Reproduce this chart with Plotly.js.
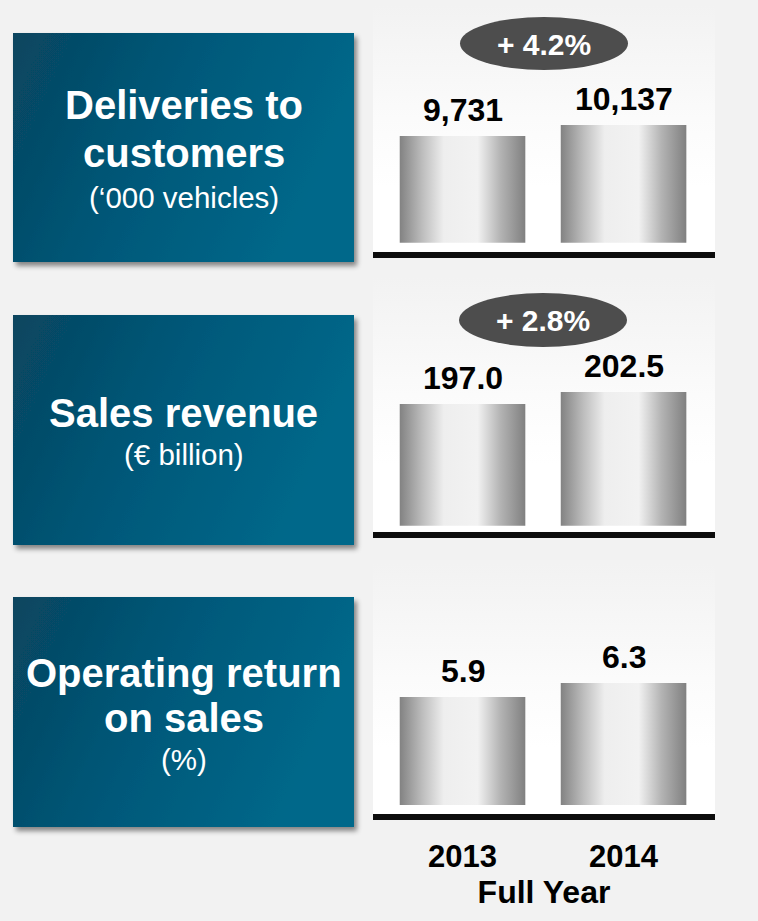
<!DOCTYPE html>
<html>
<head>
<meta charset="utf-8">
<script src="https://cdn.plot.ly/plotly-3.0.1.min.js"></script>
<style>
  html, body { margin: 0; padding: 0; background: #f2f2f2; }
  #chart { width: 758px; height: 921px; }
</style>
</head>
<body>
<div id="chart"></div>
<script>
// ---------------- data ----------------
const years = ['2013', '2014'];
const deliveries = [9731, 10137];
const revenue = [197.0, 202.5];
const returnOnSales = [5.9, 6.3];
const deliveriesLabels = ['9,731', '10,137'];
const revenueLabels = ['197.0', '202.5'];
const returnLabels = ['5.9', '6.3'];
const growthLabels = ['+ 4.2%', '+ 2.8%'];
const panelTitleLines = [['Deliveries to', 'customers'], ['Sales revenue'], ['Operating return', 'on sales']];
const panelUnits = ['(\u2018000 vehicles)', '(\u20ac billion)', '(%)'];
const xAxisTitle = 'Full Year';

// ---------------- layout helpers ----------------
const W = 758, H = 921;
const FONT = 'Liberation Sans, Arial, Helvetica, sans-serif';
const px = v => v / W;
const py = v => 1 - v / H;

// panel geometry (pixels)
const panels = [
  { top: 5,   barBottom: 242.7, lineTop: 252, lineBot: 258, range: [5793, 14566] },
  { top: 277, barBottom: 525.7, lineTop: 532, lineBot: 538, range: [141.22, 255.2] },
  { top: 563, barBottom: 805,   lineTop: 814, lineBot: 820, range: [2.814, 9.73] }
];
const plotX0 = 373, plotX1 = 715;
const boxes = [
  { y0: 33, y1: 262, lines: [105.3, 152.7], unitY: 197.8 },
  { y0: 315, y1: 545, lines: [412.7], unitY: 454.7 },
  { y0: 597, y1: 827, lines: [673.3, 717.7], unitY: 759.7 }
];
const boxX0 = 13, boxX1 = 354;
const badges = [
  { x0: 460, x1: 628, y0: 17, y1: 70, ty: 44.5 },
  { x0: 459, x1: 627, y0: 293, y1: 347, ty: 320.5 }
];

const series = [deliveries, revenue, returnOnSales];
const seriesLabels = [deliveriesLabels, revenueLabels, returnLabels];
const suffix = ['', '2', '3'];

const traces = series.map((vals, i) => ({
  type: 'bar',
  x: years,
  y: vals,
  xaxis: 'x' + suffix[i],
  yaxis: 'y' + suffix[i],
  marker: { color: '#c8c8c8', line: { width: 0 } },
  hoverinfo: 'skip',
  showlegend: false
}));

const shapes = [];
const shapeStyles = [];
function addShape(s, style) {
  shapes.push(s);
  if (style) shapeStyles.push(Object.assign({ i: shapes.length - 1 }, style));
}

// plot backgrounds + baselines
panels.forEach(p => {
  addShape({ type: 'rect', xref: 'paper', yref: 'paper', layer: 'below',
    x0: px(plotX0), x1: px(plotX1), y0: py(p.lineBot), y1: py(p.top),
    fillcolor: '#fafafa', line: { width: 0 } }, { fill: 'bgGrad' });
  addShape({ type: 'rect', xref: 'paper', yref: 'paper', layer: 'below',
    x0: px(plotX0), x1: px(plotX1), y0: py(p.lineBot), y1: py(p.lineTop),
    fillcolor: '#0d0d0d', line: { width: 0 } });
});
// blue boxes
boxes.forEach(b => {
  addShape({ type: 'rect', xref: 'paper', yref: 'paper', layer: 'below',
    x0: px(boxX0), x1: px(boxX1), y0: py(b.y1), y1: py(b.y0),
    fillcolor: '#025778', line: { width: 0 } }, { fill: 'boxGrad', filter: 'boxShadow' });
});
// growth badges
badges.forEach(b => {
  addShape({ type: 'circle', xref: 'paper', yref: 'paper', layer: 'below',
    x0: px(b.x0), x1: px(b.x1), y0: py(b.y1), y1: py(b.y0),
    fillcolor: '#4d4d4d', line: { width: 0 } });
});

const annotations = [];
// value labels (category axes: position by category index)
series.forEach((vals, i) => {
  vals.forEach((v, j) => {
    annotations.push({
      x: years.indexOf(years[j]), y: v, xref: 'x' + suffix[i], yref: 'y' + suffix[i],
      text: seriesLabels[i][j], showarrow: false, yanchor: 'bottom', xanchor: 'center',
      yshift: 6, font: { family: FONT, size: 32, color: '#000000', weight: 'bold' }
    });
  });
});
// badge labels
badges.forEach((b, i) => {
  annotations.push({
    x: px((b.x0 + b.x1) / 2), y: py(b.ty), xref: 'paper', yref: 'paper',
    text: growthLabels[i], showarrow: false, xanchor: 'center', yanchor: 'middle',
    font: { family: FONT, size: 30, color: '#ffffff', weight: 'bold' }
  });
});
// box texts
boxes.forEach((b, i) => {
  panelTitleLines[i].forEach((t, k) => {
    annotations.push({
      x: px((boxX0 + boxX1) / 2), y: py(b.lines[k]), xref: 'paper', yref: 'paper',
      text: t, showarrow: false, xanchor: 'center', yanchor: 'middle',
      font: { family: FONT, size: 40, color: '#ffffff', weight: 'bold' }
    });
  });
  annotations.push({
    x: px((boxX0 + boxX1) / 2), y: py(b.unitY), xref: 'paper', yref: 'paper',
    text: panelUnits[i], showarrow: false, xanchor: 'center', yanchor: 'middle',
    font: { family: FONT, size: 29.5, color: '#ffffff' }
  });
});

const layout = {
  width: W, height: H,
  margin: { l: 0, r: 0, t: 0, b: 0 },
  paper_bgcolor: '#f2f2f2',
  plot_bgcolor: 'rgba(0,0,0,0)',
  bargap: 0.22,
  showlegend: false,
  shapes: shapes,
  annotations: annotations
};
panels.forEach((p, i) => {
  const s = suffix[i];
  layout['xaxis' + s] = {
    domain: [px(plotX0), px(plotX1)],
    anchor: 'y' + s,
    type: 'category',
    range: [-0.556, 1.568],
    showgrid: false, zeroline: false, showline: false, ticks: '',
    showticklabels: i === 2,
    tickfont: { family: FONT, size: 31, color: '#000000', weight: 'bold' },
    ticklabelstandoff: 30,
    fixedrange: true
  };
  layout['yaxis' + s] = {
    domain: [py(p.barBottom), py(p.top)],
    anchor: 'x' + s,
    range: p.range,
    visible: false,
    fixedrange: true
  };
});
layout.xaxis3.title = {
  text: xAxisTitle,
  font: { family: FONT, size: 32, color: '#000000', weight: 'bold' },
  standoff: 4
};

// ---------------- gradients & shadow ----------------
const NS = 'http://www.w3.org/2000/svg';
function makeGrad(defs, id, attrs, stops) {
  const g = document.createElementNS(NS, 'linearGradient');
  g.setAttribute('id', id);
  Object.keys(attrs).forEach(k => g.setAttribute(k, attrs[k]));
  stops.forEach(s => {
    const st = document.createElementNS(NS, 'stop');
    st.setAttribute('offset', s[0]);
    st.setAttribute('stop-color', s[1]);
    g.appendChild(st);
  });
  defs.appendChild(g);
}
function decorate(gd) {
  const svg = gd.querySelector('.main-svg');
  if (!svg) return;
  if (!svg.querySelector('#customDefs')) {
    const defs = document.createElementNS(NS, 'defs');
    defs.setAttribute('id', 'customDefs');
    makeGrad(defs, 'barGrad', { x1: '0', y1: '0', x2: '1', y2: '0' },
      [[0, '#828282'], [0.18, '#bdbdbd'], [0.35, '#eeeeee'], [0.62, '#f2f2f2'], [0.8, '#b4b4b4'], [1, '#808080']]);
    makeGrad(defs, 'bgGrad', { x1: '0', y1: '0', x2: '0', y2: '1' },
      [[0, '#f2f2f2'], [0.45, '#fbfbfb'], [0.72, '#ffffff'], [1, '#ffffff']]);
    makeGrad(defs, 'boxGrad', { x1: '0', y1: '0', x2: '1', y2: '0.3' },
      [[0, '#08455f'], [0.5, '#025879'], [1, '#00688a']]);
    const f = document.createElementNS(NS, 'filter');
    f.setAttribute('id', 'boxShadow');
    f.setAttribute('x', '-10%'); f.setAttribute('y', '-10%');
    f.setAttribute('width', '125%'); f.setAttribute('height', '130%');
    const ds = document.createElementNS(NS, 'feDropShadow');
    ds.setAttribute('dx', '3'); ds.setAttribute('dy', '4');
    ds.setAttribute('stdDeviation', '2.5');
    ds.setAttribute('flood-color', '#000000');
    ds.setAttribute('flood-opacity', '0.45');
    f.appendChild(ds);
    defs.appendChild(f);
    svg.insertBefore(defs, svg.firstChild);
  }
  gd.querySelectorAll('.barlayer .point path').forEach(p => { p.style.fill = 'url(#barGrad)'; });
  shapeStyles.forEach(s => {
    const p = gd.querySelector('.layer-below .shapelayer path[data-index="' + s.i + '"]');
    if (!p) return;
    if (s.fill) p.style.fill = 'url(#' + s.fill + ')';
    if (s.filter) p.setAttribute('filter', 'url(#' + s.filter + ')');
  });
}

const gd = document.getElementById('chart');
Plotly.newPlot(gd, traces, layout, { displayModeBar: false, staticPlot: true }).then(() => {
  decorate(gd);
  gd.on('plotly_afterplot', () => decorate(gd));
});
</script>
</body>
</html>
